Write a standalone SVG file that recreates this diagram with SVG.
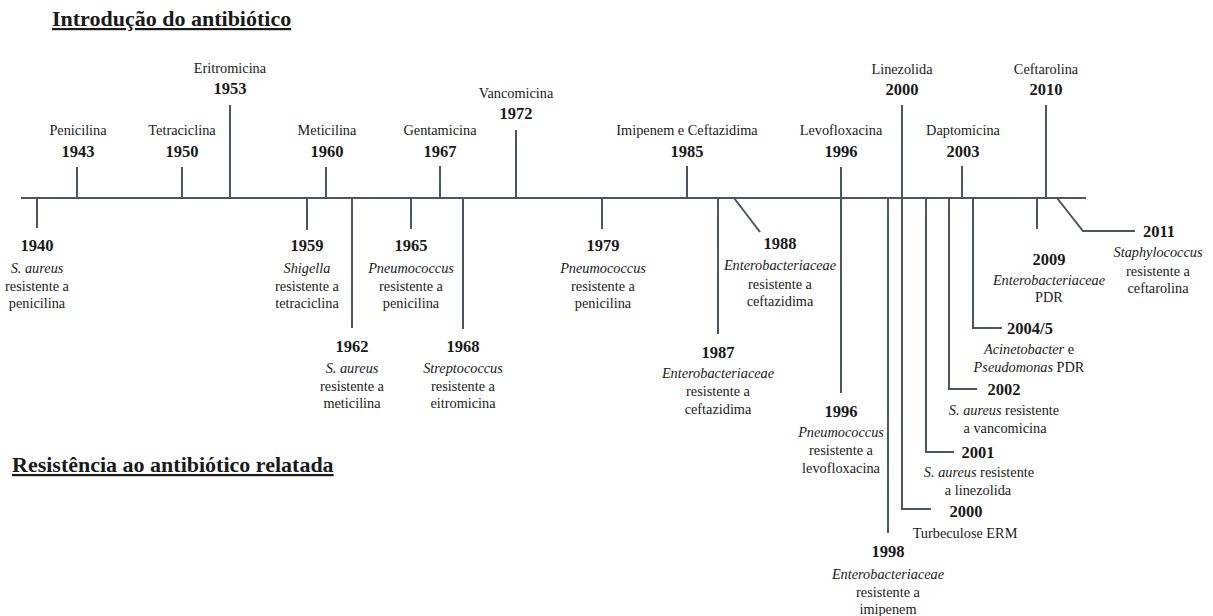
<svg xmlns="http://www.w3.org/2000/svg" width="1213" height="616" viewBox="0 0 1213 616">
<style>
text{font-family:"Liberation Serif","Times New Roman",serif;fill:#1a1a1a;text-anchor:middle}
.t{font-size:22px;font-weight:bold;text-anchor:start;text-decoration:underline}
.y{font-size:16.5px;font-weight:bold}
.l{font-size:14.3px}
.ls{font-size:14.3px;text-anchor:start}
.i{font-style:italic}
.ln{stroke:#4d5560;stroke-width:2;fill:none}
</style>
<rect width="1213" height="616" fill="#ffffff"/>
<g id="titles">
<text class="t" x="52" y="26">Introdução do antibiótico</text>
<text class="t" x="12" y="472">Resistência ao antibiótico relatada</text>
</g>
<g id="connectors" class="ln">
<line x1="21" y1="198" x2="1086" y2="198"/>
<line x1="77" y1="167" x2="77" y2="198"/>
<line x1="182" y1="167" x2="182" y2="198"/>
<line x1="230" y1="105" x2="230" y2="198"/>
<line x1="326" y1="167" x2="326" y2="198"/>
<line x1="440" y1="166" x2="440" y2="198"/>
<line x1="516" y1="130" x2="516" y2="198"/>
<line x1="687" y1="166" x2="687" y2="198"/>
<line x1="841" y1="167" x2="841" y2="393"/>
<line x1="902" y1="105" x2="902" y2="198"/>
<line x1="962" y1="166" x2="962" y2="198"/>
<line x1="1046" y1="105" x2="1046" y2="198"/>
<line x1="37" y1="198" x2="37" y2="228"/>
<line x1="307" y1="198" x2="307" y2="230"/>
<line x1="352" y1="198" x2="352" y2="328"/>
<line x1="411" y1="198" x2="411" y2="229"/>
<line x1="463" y1="198" x2="463" y2="329"/>
<line x1="602" y1="198" x2="602" y2="229"/>
<line x1="718" y1="198" x2="718" y2="334"/>
<line x1="734" y1="198" x2="760" y2="232"/>
<line x1="888" y1="198" x2="888" y2="533"/>
<polyline points="902,198 902,509 931,509"/>
<polyline points="926,198 926,452 954,452"/>
<polyline points="949,198 949,389 977,389"/>
<polyline points="973,198 973,328 1002,328"/>
<line x1="1037" y1="198" x2="1037" y2="229"/>
<polyline points="1057,198 1083,231 1135,231"/>
</g>
<g id="intro-1943"><text class="l" x="78" y="135">Penicilina</text><text class="y" x="78" y="157">1943</text></g>
<g id="intro-1950"><text class="l" x="182" y="135">Tetraciclina</text><text class="y" x="182" y="157">1950</text></g>
<g id="intro-1953"><text class="l" x="230" y="73">Eritromicina</text><text class="y" x="230" y="94">1953</text></g>
<g id="intro-1960"><text class="l" x="327" y="135">Meticilina</text><text class="y" x="327" y="157">1960</text></g>
<g id="intro-1967"><text class="l" x="440" y="135">Gentamicina</text><text class="y" x="440" y="157">1967</text></g>
<g id="intro-1972"><text class="l" x="516" y="98">Vancomicina</text><text class="y" x="516" y="119">1972</text></g>
<g id="intro-1985"><text class="l" x="687" y="135">Imipenem e Ceftazidima</text><text class="y" x="687" y="157">1985</text></g>
<g id="intro-1996"><text class="l" x="841" y="135">Levofloxacina</text><text class="y" x="841" y="157">1996</text></g>
<g id="intro-2000"><text class="l" x="902" y="74">Linezolida</text><text class="y" x="902" y="95">2000</text></g>
<g id="intro-2003"><text class="l" x="963" y="135">Daptomicina</text><text class="y" x="963" y="157">2003</text></g>
<g id="intro-2010"><text class="l" x="1046" y="74">Ceftarolina</text><text class="y" x="1046" y="95">2010</text></g>

<g id="res-1940"><text class="y" x="37" y="251">1940</text><text class="l i" x="37" y="273">S. aureus</text><text class="l" x="37" y="291">resistente a</text><text class="l" x="37" y="308">penicilina</text></g>
<g id="res-1959"><text class="y" x="307" y="251">1959</text><text class="l i" x="307" y="273">Shigella</text><text class="l" x="307" y="291">resistente a</text><text class="l" x="307" y="308">tetraciclina</text></g>
<g id="res-1962"><text class="y" x="352" y="352">1962</text><text class="l i" x="352" y="373">S. aureus</text><text class="l" x="352" y="391">resistente a</text><text class="l" x="352" y="408">meticilina</text></g>
<g id="res-1965"><text class="y" x="411" y="251">1965</text><text class="l i" x="411" y="273">Pneumococcus</text><text class="l" x="411" y="291">resistente a</text><text class="l" x="411" y="308">penicilina</text></g>
<g id="res-1968"><text class="y" x="463" y="352">1968</text><text class="l i" x="463" y="373">Streptococcus</text><text class="l" x="463" y="391">resistente a</text><text class="l" x="463" y="408">eitromicina</text></g>
<g id="res-1979"><text class="y" x="603" y="251">1979</text><text class="l i" x="603" y="273">Pneumococcus</text><text class="l" x="603" y="291">resistente a</text><text class="l" x="603" y="308">penicilina</text></g>
<g id="res-1987"><text class="y" x="718" y="358">1987</text><text class="l i" x="718" y="378">Enterobacteriaceae</text><text class="l" x="718" y="396">resistente a</text><text class="l" x="718" y="414">ceftazidima</text></g>
<g id="res-1988"><text class="y" x="780" y="249">1988</text><text class="l i" x="780" y="270">Enterobacteriaceae</text><text class="l" x="780" y="289">resistente a</text><text class="l" x="780" y="306">ceftazidima</text></g>
<g id="res-1996"><text class="y" x="841" y="417">1996</text><text class="l i" x="841" y="437">Pneumococcus</text><text class="l" x="841" y="455">resistente a</text><text class="l" x="841" y="473">levofloxacina</text></g>
<g id="res-1998"><text class="y" x="888" y="557">1998</text><text class="l i" x="888" y="579">Enterobacteriaceae</text><text class="l" x="888" y="597">resistente a</text><text class="l" x="888" y="614">imipenem</text></g>
<g id="res-2000"><text class="y" x="966" y="517">2000</text><text class="l" x="965" y="538">Turbeculose ERM</text></g>
<g id="res-2001"><text class="y" x="978" y="458">2001</text><text class="l" x="979" y="477"><tspan class="i">S. aureus</tspan> resistente</text><text class="l" x="978" y="495">a linezolida</text></g>
<g id="res-2002"><text class="y" x="1004" y="395">2002</text><text class="l" x="1004" y="415"><tspan class="i">S. aureus</tspan> resistente</text><text class="l" x="1005" y="433">a vancomicina</text></g>
<g id="res-2004"><text class="y" x="1030" y="334">2004/5</text><text class="l" x="1029" y="354"><tspan class="i">Acinetobacter</tspan> e</text><text class="l" x="1029" y="372"><tspan class="i">Pseudomonas</tspan> PDR</text></g>
<g id="res-2009"><text class="y" x="1049" y="265">2009</text><text class="l i" x="1049" y="285">Enterobacteriaceae</text><text class="l" x="1049" y="302">PDR</text></g>
<g id="res-2011"><text class="y" x="1159" y="237">2011</text><text class="l i" x="1158" y="257">Staphylococcus</text><text class="l" x="1158" y="276">resistente a</text><text class="l" x="1158" y="293">ceftarolina</text></g>
</svg>
